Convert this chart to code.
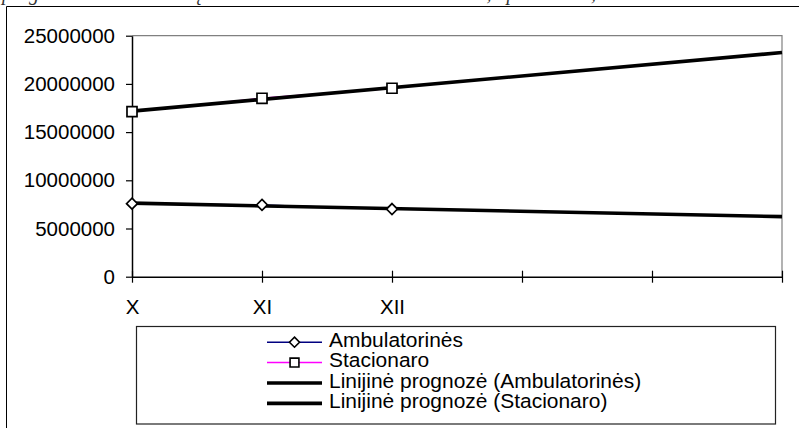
<!DOCTYPE html>
<html>
<head>
<meta charset="utf-8">
<script src="https://cdn.jsdelivr.net/npm/d3@7"></script>
<style>
  body { margin: 0; background: #fff; }
  svg { display: block; font-family: "Liberation Sans", Arial, sans-serif; }
</style>
</head>
<body>
<div id="chart"></div>
<script>
"use strict";

// categories on the x axis (last three are empty forecast slots)
var categories = ["X", "XI", "XII", "", "", ""];

var ambulatorines = [7580000, 7450000, 7020000];
var stacionaro = [17120000, 18510000, 19550000];

var yTicks = [0, 5000000, 10000000, 15000000, 20000000, 25000000];

var legendLabels = [
  "Ambulatorinės",
  "Stacionaro",
  "Linijinė prognozė (Ambulatorinės)",
  "Linijinė prognozė (Stacionaro)"
];

var w = 799,
  h = 428,
  plotLeft = 132,
  plotRight = 782,
  plotTop = 35.7,
  plotBottom = 276.7;

var svg = d3
  .select("#chart")
  .append("svg")
  .attr("width", w)
  .attr("height", h);

// caption of the page, mostly cut off by the frame
svg
  .append("text")
  .attr("x", 2)
  .attr("y", 0)
  .style("font-family", "'Liberation Serif', 'Times New Roman', serif")
  .style("font-style", "italic")
  .style("font-size", "20px")
  .attr("fill", "#333")
  .text("prognozė ketvirčiams: sąnaudos ambulatorinei ir stacionaro, op. skaičius, litais.");

// outer chart frame
svg
  .append("path")
  .attr("d", "M6.5," + h + "V6.5H" + w)
  .attr("fill", "none")
  .attr("stroke", "#000")
  .attr("stroke-width", 1);

var x = d3
  .scaleLinear()
  .domain([0, categories.length - 1])
  .range([plotLeft, plotRight]);

var y = d3
  .scaleLinear()
  .domain([0, 25000000])
  .range([plotBottom, plotTop]);

// plot area border (gray top and right)
svg
  .append("path")
  .attr("d", "M" + plotLeft + "," + plotTop + "H" + plotRight + "V" + plotBottom)
  .attr("fill", "none")
  .attr("stroke", "#808080")
  .attr("stroke-width", 1.2);

// y axis
var yAxis = svg
  .append("g")
  .attr("transform", "translate(" + plotLeft + ",0)")
  .call(
    d3
      .axisLeft(y)
      .tickValues(yTicks)
      .tickFormat(d3.format("d"))
      .tickSize(6)
      .tickSizeOuter(0)
      .tickPadding(11)
  );

// x axis, ticks cross the line
var xAxis = svg
  .append("g")
  .attr("transform", "translate(0," + plotBottom + ")")
  .call(
    d3
      .axisBottom(x)
      .tickValues(d3.range(categories.length))
      .tickFormat(function(i) {
        return categories[i];
      })
      .tickSize(6)
      .tickSizeOuter(0)
      .tickPadding(17)
  );
xAxis.selectAll(".tick line").attr("y1", -6);

[yAxis, xAxis].forEach(function(a) {
  a.select(".domain").attr("stroke", "#000").attr("stroke-width", 1.5);
  a.selectAll(".tick line").attr("stroke", "#000").attr("stroke-width", 1.2);
  a.selectAll("text")
    .style("font-family", "'Liberation Sans', Arial, sans-serif")
    .style("font-size", "20.5px")
    .attr("fill", "#000");
});

//least squares line over the observed points, stretched over all categories
function trend(vals) {
  var n = vals.length,
    mx = d3.mean(d3.range(n)),
    my = d3.mean(vals);
  var sxy = d3.sum(vals, function(v, i) {
    return (i - mx) * (v - my);
  });
  var sxx = d3.sum(d3.range(n), function(i) {
    return (i - mx) * (i - mx);
  });
  var b = sxy / sxx,
    a = my - b * mx;
  return [0, categories.length - 1].map(function(i) {
    return [i, a + b * i];
  });
}

var line = d3
  .line()
  .x(function(d, i) {
    return x(i);
  })
  .y(function(d) {
    return y(d);
  });

var trendLine = d3
  .line()
  .x(function(d) {
    return x(d[0]);
  })
  .y(function(d) {
    return y(d[1]);
  });

svg
  .append("path")
  .attr("d", line(ambulatorines))
  .attr("fill", "none")
  .attr("stroke", "#000080")
  .attr("stroke-width", 1.3);

svg
  .append("path")
  .attr("d", line(stacionaro))
  .attr("fill", "none")
  .attr("stroke", "#ff00ff")
  .attr("stroke-width", 1.3);

[ambulatorines, stacionaro].forEach(function(s) {
  svg
    .append("path")
    .attr("d", trendLine(trend(s)))
    .attr("fill", "none")
    .attr("stroke", "#000")
    .attr("stroke-width", 3.6);
});

var diamond = d3.symbol().type(d3.symbolDiamond2).size(76);
var square = d3.symbol().type(d3.symbolSquare2).size(128);

svg
  .append("g")
  .selectAll("path")
  .data(ambulatorines)
  .join("path")
  .attr("d", diamond)
  .attr("transform", function(d, i) {
    return "translate(" + x(i) + "," + y(d) + ")";
  })
  .attr("fill", "#fff")
  .attr("stroke", "#000")
  .attr("stroke-width", 1.7);

svg
  .append("g")
  .selectAll("path")
  .data(stacionaro)
  .join("path")
  .attr("d", square)
  .attr("transform", function(d, i) {
    return "translate(" + x(i) + "," + y(d) + ")";
  })
  .attr("fill", "#fff")
  .attr("stroke", "#000")
  .attr("stroke-width", 1.7);

// legend
var legend = svg.append("g");

legend
  .append("rect")
  .attr("x", 136.5)
  .attr("y", 326.5)
  .attr("width", 639)
  .attr("height", 97.5)
  .attr("fill", "#fff")
  .attr("stroke", "#222")
  .attr("stroke-width", 1.2);

var legendDiamond = d3.symbol().type(d3.symbolDiamond2).size(64);
var legendSquare = d3.symbol().type(d3.symbolSquare2).size(100);

var legendStyles = [
  { color: "#000080", width: 1.5, mark: legendDiamond },
  { color: "#ff00ff", width: 1.5, mark: legendSquare },
  { color: "#000", width: 3.6, mark: null },
  { color: "#000", width: 3.6, mark: null }
];

legendLabels.forEach(function(label, i) {
  var base = 346.7 + i * 20.4,
    ly = base - 4.5,
    st = legendStyles[i];
  legend
    .append("line")
    .attr("x1", 267)
    .attr("x2", 322)
    .attr("y1", ly)
    .attr("y2", ly)
    .attr("stroke", st.color)
    .attr("stroke-width", st.width);
  if (st.mark) {
    legend
      .append("path")
      .attr("d", st.mark())
      .attr("transform", "translate(294.5," + ly + ")")
      .attr("fill", "#fff")
      .attr("stroke", "#000")
      .attr("stroke-width", 1.6);
  }
  //the reference font runs wide, so stretch it sideways only
  legend
    .append("text")
    .attr("transform", "translate(329," + base + ") scale(1.075,1)")
    .style("font-size", "19.5px")
    .text(label);
});
</script>
</body>
</html>
